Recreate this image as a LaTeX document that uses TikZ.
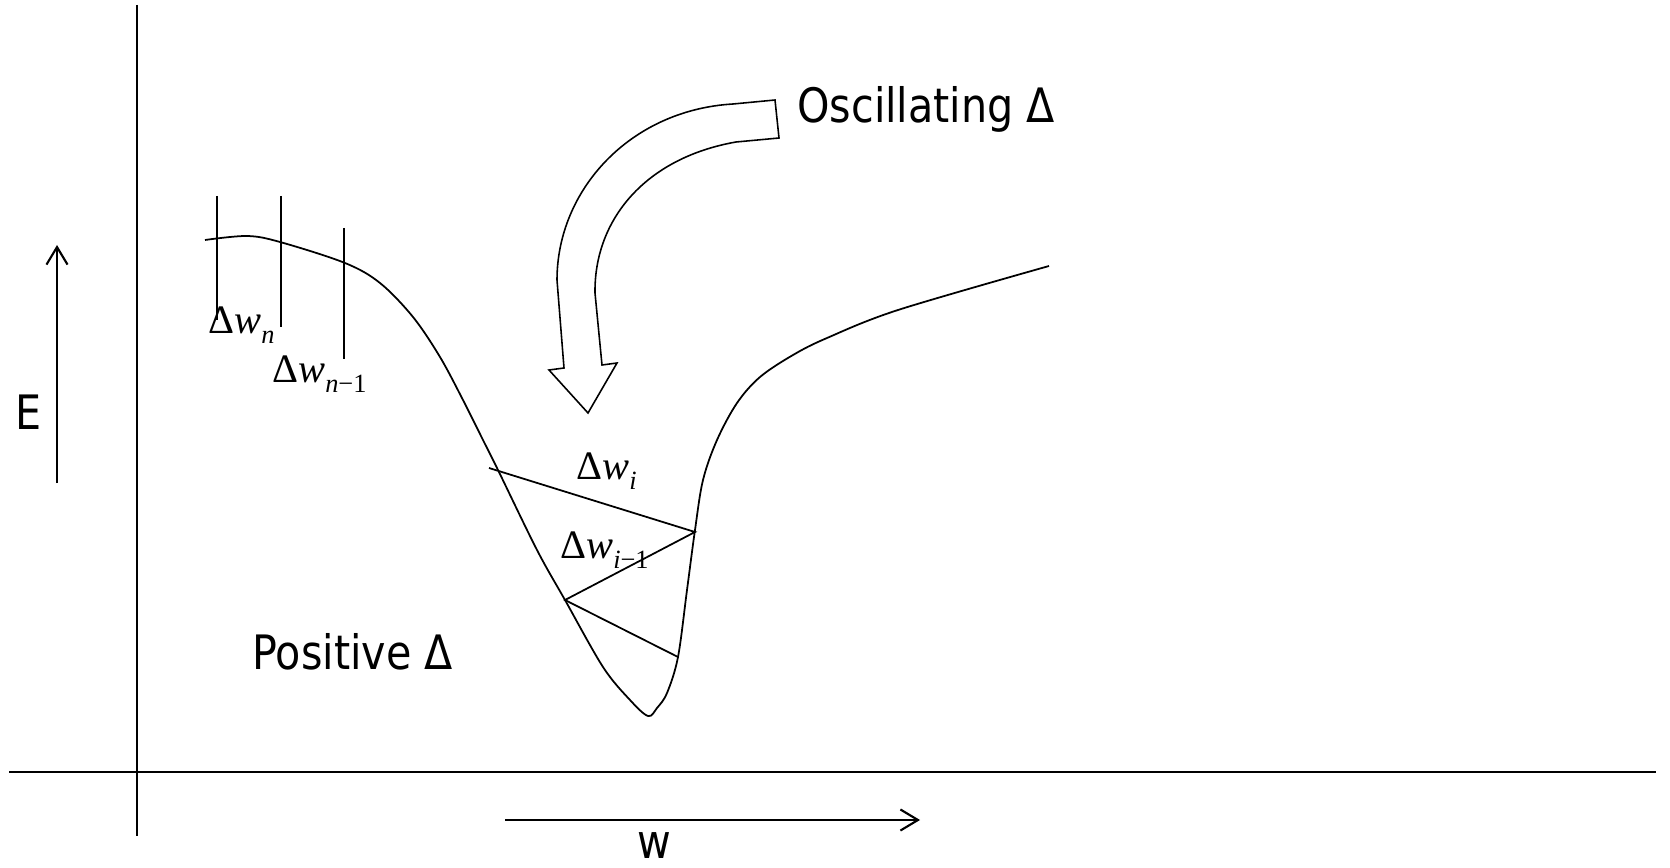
\documentclass[tikz,border=0pt]{standalone}
\usepackage{fontspec}
\setmainfont{DejaVu Sans}[FakeStretch=0.87]
\newfontfamily\tnr{Liberation Serif}
\usetikzlibrary{arrows.meta}
\newcommand{\dw}[1]{{\tnr Δ\textit{w}\raisebox{-6pt}{\fontsize{15}{15}\selectfont #1}}}
\tikzset{
  >={Straight Barb[length=10pt,width=12pt]},
  axis/.style={line width=1.2pt},
  curve/.style={line width=1pt,line join=round},
  tick/.style={line width=1pt},
  tag/.style={font=\fontsize{27}{30}\selectfont,inner sep=0pt,anchor=base west},
  wlab/.style={font=\fontsize{23}{25}\selectfont,inner sep=0pt,anchor=base west},
  dir/.style={->,line width=1.2pt},
  bend arrow/.style={line width=0.9pt,line join=miter},
}

\begin{document}
\begin{tikzpicture}[x=0.02cm,y=-0.02cm]
\useasboundingbox (0,0) rectangle (1670,868);
% axes
\coordinate (ytop) at (137,5);
\coordinate (ybot) at (137,836);
\coordinate (xl) at (9,772);
\coordinate (xr) at (1656,772);
\draw[axis] (ytop) -- (ybot);
\draw[axis] (xl) -- (xr);
% direction arrows
\coordinate (e0) at (57,483);
\coordinate (e1) at (57,245);
\coordinate (w0) at (505,820);
\coordinate (w1) at (920,820);
\draw[dir] (e0) -- (e1);
\draw[dir] (w0) -- (w1);
\node[tag] (elab) at (15,429) {E};
\node[tag] (wlab) at (637,858) {w};
% energy curve
\draw[curve] plot[smooth,tension=0.55] coordinates {
  (205,240) (247,236) (280,242) (345,263) (380,283) (413,317) (440,357)
  (463,400) (483,440) (498,470) (537,550) (565,600) (603,667) (630,700)
  (648,716) (657,708) (667,693) (678,657) (687,590) (695,530) (703,480)
  (717,440) (737,403) (760,377) (793,355) (827,338) (898,310) (1049,266)};
% steps on the plateau
\foreach \x/\a/\b in {217/196/320, 281/196/327, 344/228/359}
  \draw[tick] (\x,\a) -- (\x,\b);
% steps in the valley
\coordinate (pA) at (489,468);
\coordinate (pB) at (695,532);
\coordinate (pC) at (565,600);
\coordinate (pD) at (678,657);
\draw[tick] (pA) -- (pB) -- (pC) -- (pD);
\node[wlab] (dwn) at (208,333) {\dw{\textit{n}}};
\node[wlab] (dwn1) at (272,382) {\dw{\textit{n}−1}};
\node[wlab] (dwi) at (576,479) {\dw{\textit{i}}};
\node[wlab] (dwi1) at (560,558) {\dw{\textit{i}−1}};
% bent block arrow
\draw[bend arrow] (775,100) -- (733,104) .. controls (630,110) and (557,190) .. (557,280)
  -- (564,368) -- (549,370) -- (588,413) -- (617,363) -- (602,365) -- (595,293)
  .. controls (594,220) and (645,158) .. (736,142) -- (779,138) -- cycle;
\node[tag] (osc) at (797,123) {Oscillating Δ};
\node[tag] (pos) at (252,669) {Positive Δ};
\end{tikzpicture}
\end{document}
